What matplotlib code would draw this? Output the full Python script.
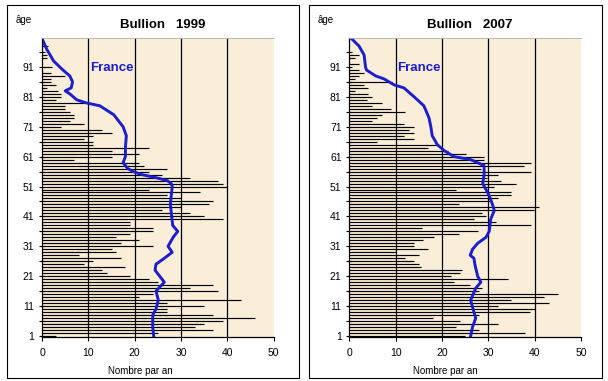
import matplotlib
matplotlib.use('Agg')
import matplotlib.pyplot as plt
from matplotlib.patches import Rectangle

plt.rcParams['font.family'] = ['Liberation Sans', 'DejaVu Sans']

# ages 1..100
ages = list(range(1, 101))

# Bullion 1999, nombre par an, age 1 -> 100
bullion_1999 = [3, 25, 37, 33, 35, 39, 46, 37, 27, 27,
                35, 27, 43, 21, 24, 38, 32, 37, 25, 23,
                19, 14, 13, 18, 9, 11, 17, 8, 16, 15,
                24, 17, 21, 16, 19, 24, 24, 19, 19, 39,
                35, 32, 26, 30, 36, 37, 30, 27, 34, 23,
                40, 39, 38, 32, 26, 23, 27, 22, 21, 7,
                15, 21, 15, 23, 11, 11, 9, 11, 15, 13,
                4, 9, 6, 7, 7, 6, 5, 5, 9, 3,
                4, 4, 3.4, 1, 3, 2, 2, 5, 2, 0,
                2.2, 0, 0, 1, 1, 0, 0, 1.2, 0, 0]

# Bullion 2007
bullion_2007 = [25, 38, 28, 23, 32, 24, 18, 28, 39, 40,
                32, 43, 35, 42, 45, 28, 28.6, 26, 22.5, 34.3,
                22, 24, 24.3, 15.4, 15, 14, 12, 15, 10, 17,
                14, 14, 16, 18.3, 23.7, 27.7, 15.8, 39.2, 31.6, 26.9,
                29.5, 28.7, 39.9, 41, 23.7, 30.9, 32, 34.9, 34.9, 23,
                31.3, 36, 32.7, 29.8, 32, 39.2, 28.4, 37.8, 39.2, 29.1,
                29.1, 25.1, 21.2, 16.9, 19, 6, 14, 11.8, 14, 12.9,
                14, 11.8, 5, 6, 7.1, 12, 8.9, 5, 7.1, 3.9,
                5, 4, 1.2, 4, 3.2, 9.3, 1.2, 2.1, 3.2, 2.1,
                0, 2.1, 0, 1.2, 2.1, 0, 0, 0, 0, 0]

# courbe France (age, valeur)
france_1999_age = [1, 4, 8, 10, 13, 16, 17, 19, 21, 23, 25, 27, 29, 31, 34, 36, 38, 41,
                   45, 48, 51, 52, 53, 54, 55, 56, 57, 58, 59, 61, 64, 68, 71, 75, 78,
                   79, 80, 82, 83, 84, 86, 88, 90, 93, 97, 100.5]
france_1999_val = [24.1, 23.9, 23.9, 24.6, 25.1, 24.6, 25.2, 26.4, 25.4, 24.4, 24.6, 26.4,
                   28.1, 27.2, 28.3, 29.3, 28.2, 28, 27.7, 27.9, 28.1, 27.9, 27, 24.5,
                   21.5, 19.7, 18.5, 18, 17.5, 18, 18, 18.2, 17.5, 15.5, 12.5, 9.5, 7.5,
                   6, 5, 6.3, 6.6, 6, 4.5, 2.5, 1, 0]

france_2007_age = [1, 4, 7, 9, 13, 17, 19, 21, 25, 27, 28, 30, 32, 34, 36, 40, 43, 45,
                   48, 50, 52, 55, 58, 60, 61, 63, 65, 68, 71, 74, 78, 81, 84, 85, 87,
                   88, 90, 91, 95, 98, 100.3]
france_2007_val = [26.2, 26.6, 27.3, 26.9, 26.2, 27.3, 28.4, 27.7, 27.1, 26.9, 26.1, 26.6,
                   27.7, 29.5, 30.2, 30.5, 31.3, 30.9, 30.2, 29.5, 28.8, 29.1, 29.1, 26.2,
                   22.6, 20.5, 19, 17.9, 17.6, 17.2, 16.1, 14, 11.8, 9.7, 7.5, 5.7, 3.7,
                   3.5, 3.2, 2.1, 0.6]

years = ['1999', '2007']
bg = '#faeed8'
blue = '#1c1cd0'

fig = plt.figure(figsize=(6.08, 3.81), dpi=100)
fig.patch.set_facecolor('white')

panels = [
    (0.0691, bullion_1999, france_1999_age, france_1999_val, 0.011, 163, 140),
    (0.5745, bullion_2007, france_2007_age, france_2007_val, 0.5082, 470, 445),
]

for i, (left, vals, fr_age, fr_val, frame_x, title_x, xlab_x) in enumerate(panels):
    ax = fig.add_axes([left, 0.1155, 0.381, 0.7848])
    ax.set_facecolor(bg)
    ax.hlines(ages, 0, vals, color='black', lw=0.85)
    ax.plot(fr_val, fr_age, color=blue, lw=2.1, solid_joinstyle='round')
    ax.text(10.3, 90.6, 'France', color=blue, fontsize=9.5, fontweight='bold',
            va='center', ha='left')

    ax.set_xlim(0, 50)
    ax.set_ylim(0.65, 100.7)
    ax.set_xticks(range(0, 51, 10))
    yt = list(range(1, 100, 5))
    ax.set_yticks(yt)
    ax.set_yticklabels([str(a) if (a - 1) % 10 == 0 else '' for a in yt])
    ax.tick_params(axis='y', direction='inout', length=5, width=0.8, labelsize=7.5, pad=3)
    ax.tick_params(axis='x', direction='out', length=3, width=0.8, labelsize=7.5, pad=5)
    for g in (10, 20, 30, 40):
        ax.axvline(g, color='black', lw=0.9, zorder=0.5)
    ax.spines['right'].set_visible(False)
    ax.spines['top'].set_color('#b0b0b0')
    ax.spines['top'].set_linewidth(0.6)
    ax.spines['left'].set_linewidth(0.9)
    ax.spines['bottom'].set_linewidth(0.9)

    fig.add_artist(Rectangle((frame_x, 0.0079), 0.4814, 0.979, transform=fig.transFigure,
                             fill=False, ec='black', lw=0.8))
    fig.text(title_x / 608, 1 - 25 / 381, 'Bullion   ' + years[i], fontsize=9.5,
             fontweight='bold', ha='center', va='center')
    fig.text(xlab_x / 608, 1 - 371 / 381, 'Nombre par an', fontsize=7,
             ha='center', va='center')
    fig.text((frame_x * 608 + 9) / 608, 1 - 20 / 381, 'âge', fontsize=7,
             ha='left', va='center')

fig.savefig('out.png', dpi=100, facecolor='white')
